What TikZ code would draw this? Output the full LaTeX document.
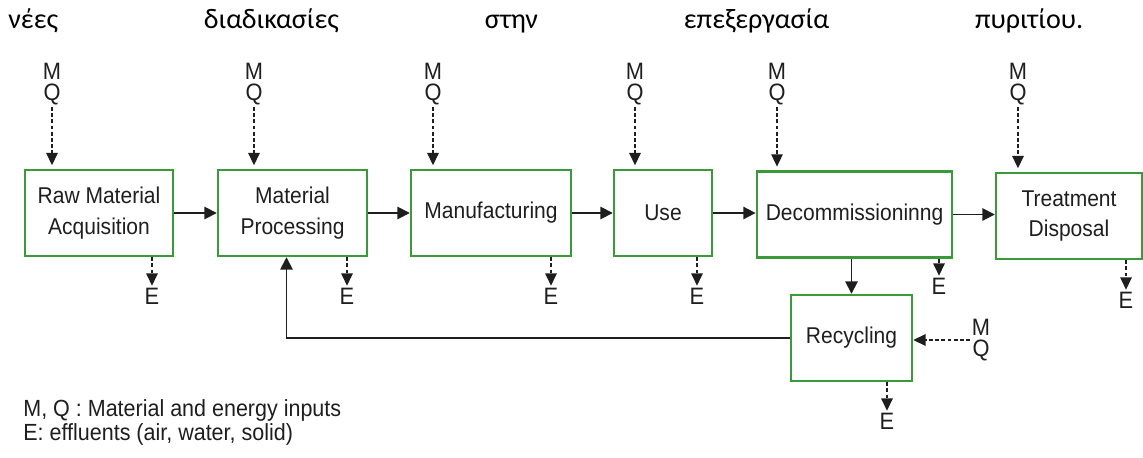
\documentclass[tikz,border=0pt]{standalone}
\usepackage{fontspec}
\setmainfont{Liberation Sans}
\newfontfamily\boxfont{Liberation Sans}[FakeStretch=0.92]
\newfontfamily\greekfont{Carlito}
\usetikzlibrary{arrows.meta, positioning, calc}
\definecolor{boxGreen}{HTML}{3A9A3A}
\definecolor{inkGray}{HTML}{1E1E1E}

\begin{document}
\begin{tikzpicture}[x=0.02cm, y=-0.02cm,
    stage/.style={rectangle, draw=boxGreen, line width=1.4pt, inner sep=0pt, minimum height=1.72cm,
      font=\boxfont\fontsize{13}{17.4}\selectfont, text=inkGray, align=center},
    lbl/.style={font=\boxfont\fontsize{13.5}{12}\selectfont, text=inkGray, inner sep=1pt, align=center},
    flow/.style={-{Triangle[length=7pt, width=7pt]}, line width=1pt, inkGray},
    aux/.style={-{Triangle[length=7pt, width=6.5pt]}, line width=0.8pt, inkGray, dash pattern=on 2.2pt off 1.3pt}
  ]
  \useasboundingbox (0,0) rectangle (1143,457);

  % heading line
  \node[font=\greekfont\fontsize{16}{18}\selectfont, anchor=base west, inner sep=0pt, text width=21.5cm] (intro) at (8,28)
    {\noindent νέες\hfill διαδικασίες\hfill στην\hfill επεξεργασία\hfill πυριτίου.};

  % life cycle stages
  \node[stage, minimum width=2.96cm] (raw) at (99,213) {Raw Material\\Acquisition};
  \node[stage, minimum width=2.98cm] (proc) at (292.5,213) {Material\\Processing};
  \node[stage, minimum width=3.20cm] (manu) at (491,213) {Manufacturing};
  \node[stage, minimum width=1.96cm] (use) at (663,213) {Use};
  \node[stage, minimum width=3.90cm, line width=1.6pt] (decom) at (854.5,214.5) {Decommissioninng};
  \node[stage, minimum width=2.92cm] (treat) at (1069,216) {Treatment\\Disposal};
  \node[stage, minimum width=2.42cm] (recyc) at (851.5,338) {Recycling};

  \draw[flow] (raw) -- (proc);
  \draw[flow] (proc) -- (manu);
  \draw[flow] (manu) -- (use);
  \draw[flow] (use) -- (use -| decom.west);
  \draw[flow] (decom) -- (decom -| treat.west);
  \draw[flow] (recyc.north |- decom.south) -- (recyc.north);
  \draw[flow] (recyc.west) -| ($(proc.south)+(-6,0)$);

  % inputs M, Q
  \node[lbl] (mqA) at (52,84) {M\\Q};
  \node[lbl] (mqB) at (254,84) {M\\Q};
  \node[lbl] (mqC) at (433,84) {M\\Q};
  \node[lbl] (mqD) at (635,84) {M\\Q};
  \node[lbl] (mqE) at (777,84) {M\\Q};
  \node[lbl] (mqF) at (1018,84) {M\\Q};
  \node[lbl] (mqG) at (981,340) {M\\Q};

  \draw[aux, shorten >=2pt] (mqA) -- (mqA |- raw.north);
  \draw[aux, shorten >=2pt] (mqB) -- (mqB |- proc.north);
  \draw[aux, shorten >=2pt] (mqC) -- (mqC |- manu.north);
  \draw[aux, shorten >=2pt] (mqD) -- (mqD |- use.north);
  \draw[aux, shorten >=2pt] (mqE) -- (mqE |- decom.north);
  \draw[aux, shorten >=2pt] (mqF) -- (mqF |- treat.north);
  \draw[aux] (mqG) -- (mqG -| recyc.east);

  % effluents E
  \node[lbl] (eA) at (152,296) {E};
  \node[lbl] (eB) at (347,296) {E};
  \node[lbl] (eC) at (551,296) {E};
  \node[lbl] (eD) at (697,296) {E};
  \node[lbl] (eE) at (939,286) {E};
  \node[lbl] (eF) at (1126,300) {E};
  \node[lbl] (eG) at (887,421) {E};

  \draw[aux] (eA |- raw.south) -- (eA);
  \draw[aux] (eB |- proc.south) -- (eB);
  \draw[aux] (eC |- manu.south) -- (eC);
  \draw[aux] (eD |- use.south) -- (eD);
  \draw[aux] (eE |- decom.south) -- (eE);
  \draw[aux] (eF |- treat.south) -- (eF);
  \draw[aux] (eG |- recyc.south) -- (eG);

  % key
  \node[anchor=base west, inner sep=0pt, text=inkGray, font=\boxfont\fontsize{13.3}{14}\selectfont] (keyA) at (23,416) {M, Q : Material and energy inputs};
  \node[anchor=base west, inner sep=0pt, text=inkGray, font=\boxfont\fontsize{13.3}{14}\selectfont] (keyB) at (23,440) {E: effluents (air, water, solid)};
\end{tikzpicture}
\end{document}
